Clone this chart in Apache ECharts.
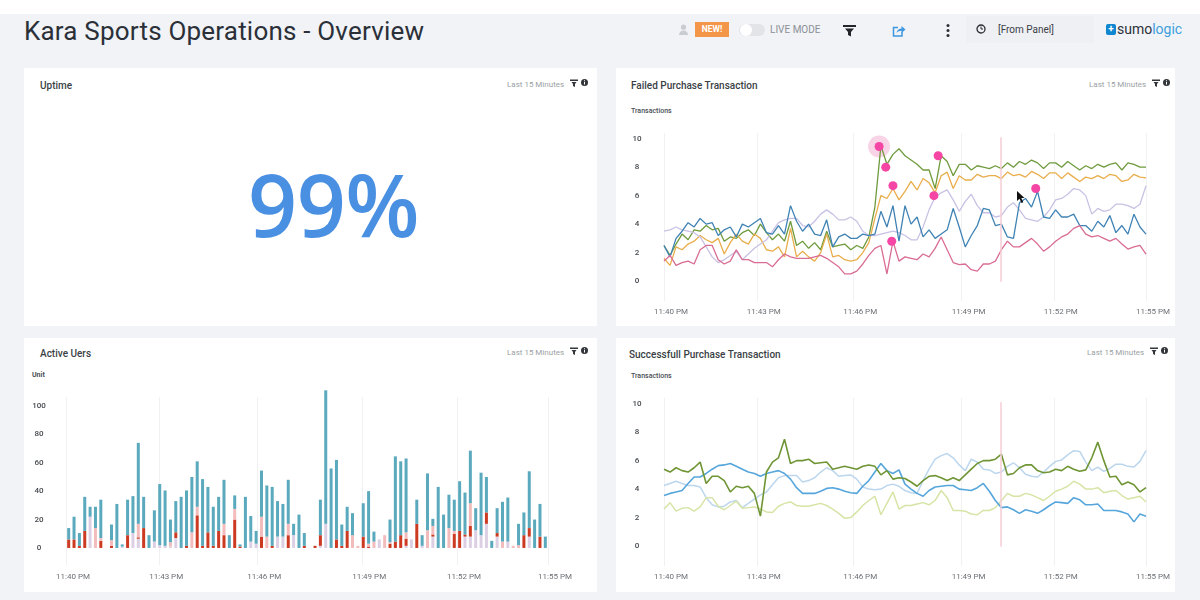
<!DOCTYPE html>
<html>
<head>
<meta charset="utf-8">
<title>Kara Sports Operations - Overview</title>
<script src="https://cdn.jsdelivr.net/npm/echarts@6/dist/echarts.min.js"></script>
<style>
  html, body { margin: 0; width: 1200px; height: 600px; overflow: hidden; background: #fff; font-family: Roboto, sans-serif; }
  #bg { position: absolute; left: 0; top: 14px; width: 1200px; height: 586px; background: #f1f3f7; }
  .panel { position: absolute; background: #fff; }
  .t { position: absolute; white-space: nowrap; line-height: 1; }
  .ptitle { font-size: 10px; font-weight: 500; color: #3a3f45; }
  .last { font-size: 8px; color: #9b9fa4; }
  svg { position: absolute; }
  #chart { position: absolute; left: 0; top: 0; width: 1200px; height: 600px; }
</style>
</head>
<body>
<div id="bg"></div>
<div class="panel" style="left:24px;top:68px;width:573px;height:258px"></div>
<div class="panel" style="left:616px;top:68px;width:559px;height:258px"></div>
<div class="panel" style="left:24px;top:338px;width:573px;height:254px"></div>
<div class="panel" style="left:616px;top:338px;width:559px;height:254px"></div>

<div class="t" style="left:24px;top:18px;font-size:26px;color:#2b3038;letter-spacing:.2px">Kara Sports Operations - Overview</div>

<svg style="left:678px;top:24px" width="11" height="12" viewBox="0 0 11 12"><circle cx="5.5" cy="3.2" r="2.6" fill="#c9ccd0"/><path d="M1 11c0-3 2-4.5 4.5-4.5S10 8 10 11z" fill="#c9ccd0"/></svg>
<div class="t" style="left:695px;top:22px;width:34px;height:15px;line-height:15px;background:#f4964a;color:#fff;font-size:8.5px;font-weight:700;text-align:center">NEW!</div>
<div style="position:absolute;left:739px;top:24px;width:26px;height:12px;border-radius:6px;background:#e2e4e8"></div>
<div style="position:absolute;left:740px;top:24px;width:12px;height:12px;border-radius:6px;background:#fff"></div>
<div class="t" style="left:770px;top:25px;font-size:10px;color:#8c9096">LIVE MODE</div>
<svg style="left:843px;top:24px" width="13" height="13" viewBox="0 0 13 13"><path d="M0 1h13v2H0zM2 4.5h9L8 8v4.5L5 11V8z" fill="#22252a"/></svg>
<svg style="left:892px;top:24px" width="14" height="14" viewBox="0 0 14 14"><path d="M10 8v4H1.500V3.500H6" fill="none" stroke="#3f97e0" stroke-width="1.500"/><path d="M4.500 9c.5-3 2.500-4.500 5-4.500V2l4 3.500-4 3.500V6.800C7.500 6.800 5.800 7.500 4.500 9z" fill="#3f97e0"/></svg>
<svg style="left:945px;top:23px" width="6" height="15" viewBox="0 0 6 15"><circle cx="3" cy="2.500" r="1.500" fill="#2a2d32"/><circle cx="3" cy="7.500" r="1.500" fill="#2a2d32"/><circle cx="3" cy="12.500" r="1.500" fill="#2a2d32"/></svg>
<div style="position:absolute;left:966px;top:16px;width:128px;height:27px;background:#eef0f4"></div>
<svg style="left:976px;top:24px" width="10" height="10" viewBox="0 0 10 10"><circle cx="5" cy="5" r="4" fill="none" stroke="#2a2d32" stroke-width="1.300"/><path d="M5 2.500V5h2" fill="none" stroke="#2a2d32"/></svg>
<div class="t" style="left:998px;top:25px;font-size:10px;color:#3c4047">[From Panel]</div>
<div style="position:absolute;left:1106px;top:24px;width:10px;height:11px;border-radius:2px;background:#0f87d0"></div>
<div class="t" style="left:1107px;top:24px;width:8px;text-align:center;font-size:10px;font-weight:700;color:#fff">+</div>
<div class="t" style="left:1117px;top:22px;font-size:14px;color:#2d3138">sumo<span style="color:#3f9fdc">logic</span></div>

<div class="t ptitle" style="left:40px;top:81px">Uptime</div>
<div class="t ptitle" style="left:631px;top:81px">Failed Purchase Transaction</div>
<div class="t ptitle" style="left:40px;top:349px">Active Uers</div>
<div class="t ptitle" style="left:629px;top:350px">Successfull Purchase Transaction</div>

<div class="t last" style="left:507px;top:81px">Last 15 Minutes</div>
<div class="t last" style="left:1089px;top:81px">Last 15 Minutes</div>
<div class="t last" style="left:507px;top:349px">Last 15 Minutes</div>
<div class="t last" style="left:1087px;top:349px">Last 15 Minutes</div>

<div class="t" style="left:631px;top:108px;font-size:7px;font-weight:500;color:#4a4e54">Transactions</div>
<div class="t" style="left:32px;top:372px;font-size:7px;font-weight:700;color:#4a4e54">Unit</div>
<div class="t" style="left:631px;top:373px;font-size:7px;font-weight:500;color:#4a4e54">Transactions</div>

<div class="t" style="left:248px;top:152px;font-family:'Open Sans',sans-serif;font-weight:600;font-size:86px;letter-spacing:-.5px;color:#4a90e2;line-height:104px">99%</div>

<div id="chart"></div>

<svg style="left:1016px;top:190px;z-index:3" width="10" height="14" viewBox="0 0 10 14"><path d="M1 1v10l2.500-2.300L5.500 13l1.800-.8-2-4.200H8.500z" fill="#111"/></svg>
<svg style="left:570px;top:79px;z-index:3" width="8" height="8" viewBox="0 0 8 8"><path d="M0 .5h8V2H0zM1.500 3h5L5 5v3L3 7V5z" fill="#33363b"/></svg>
<svg style="left:581px;top:79px;z-index:3" width="7" height="7" viewBox="0 0 7 7"><circle cx="3.500" cy="3.500" r="3.500" fill="#33363b"/><path d="M3.500 3v2.500M3.500 1.300v1" stroke="#fff"/></svg>
<svg style="left:1152px;top:79px;z-index:3" width="8" height="8" viewBox="0 0 8 8"><path d="M0 .5h8V2H0zM1.500 3h5L5 5v3L3 7V5z" fill="#33363b"/></svg>
<svg style="left:1163px;top:79px;z-index:3" width="7" height="7" viewBox="0 0 7 7"><circle cx="3.500" cy="3.500" r="3.500" fill="#33363b"/><path d="M3.500 3v2.500M3.500 1.300v1" stroke="#fff"/></svg>
<svg style="left:570px;top:347px;z-index:3" width="8" height="8" viewBox="0 0 8 8"><path d="M0 .5h8V2H0zM1.500 3h5L5 5v3L3 7V5z" fill="#33363b"/></svg>
<svg style="left:581px;top:347px;z-index:3" width="7" height="7" viewBox="0 0 7 7"><circle cx="3.500" cy="3.500" r="3.500" fill="#33363b"/><path d="M3.500 3v2.500M3.500 1.300v1" stroke="#fff"/></svg>
<svg style="left:1150px;top:347px;z-index:3" width="8" height="8" viewBox="0 0 8 8"><path d="M0 .5h8V2H0zM1.500 3h5L5 5v3L3 7V5z" fill="#33363b"/></svg>
<svg style="left:1161px;top:347px;z-index:3" width="7" height="7" viewBox="0 0 7 7"><circle cx="3.500" cy="3.500" r="3.500" fill="#33363b"/><path d="M3.500 3v2.500M3.500 1.300v1" stroke="#fff"/></svg>

<script>
// tick labels and where the gridlines sit on the sample scale
const timeLabels = ['11:40 PM', '11:43 PM', '11:46 PM', '11:49 PM', '11:52 PM', '11:55 PM']
const lineTicks = [0, 15.4, 31.4, 49.4, 64.7, 80]
const barTicks = [-0.5, 16.9, 35.2, 54.8, 72.5, 89.5]
const txTicks = [0, 2, 4, 6, 8, 10]
const unitTicks = [0, 20, 40, 60, 80, 100]

// Failed Purchase Transaction
const failedGreen = [2.5,1.8,2.6,3.3,2.9,3.6,3.5,3.9,3.6,3.7,2.8,3.1,3.0,3.4,3.6,3.2,4.0,3.4,2.9,3.3,2.8,4.2,2.5,2.8,2.3,2.7,2.2,3.5,2.4,2.5,2.6,2.2,2.5,2.3,3.1,5.2,9.5,8.2,8.9,9.3,8.8,8.5,8.2,7.8,7.8,6.5,8.8,8.4,7.4,8.2,8.2,7.8,8.1,8.0,7.9,8.1,7.9,8.3,8.0,8.4,8.2,8.5,8.3,7.9,8.3,8.3,8.0,8.4,8.1,7.8,8.1,7.9,8.2,8.0,8.2,8.3,7.8,8.3,8.2,8.0,8.0]
const failedOrange = [1.6,1.1,2.4,2.2,2.6,2.8,3.2,2.9,2.7,3.0,1.9,2.7,3.3,2.8,2.6,3.3,3.0,2.2,2.1,2.4,1.7,3.7,1.7,2.1,1.7,1.4,2.0,3.3,1.7,1.8,1.5,1.4,1.5,2.0,2.7,4.4,6.0,5.8,6.5,5.7,6.3,7.0,6.4,7.2,6.9,6.2,7.4,7.65,6.5,7.4,7.1,7.1,7.5,7.3,7.4,7.4,7.2,7.65,7.4,7.5,7.3,7.7,7.5,7.2,7.6,7.6,7.2,7.6,7.3,7.0,7.3,7.2,7.4,7.2,7.5,7.4,7.0,7.1,7.5,7.3,7.25]
const failedBlue = [2.5,1.7,3.0,3.5,4.1,3.8,4.4,4.0,4.1,3.2,3.6,3.8,3.1,4.0,3.8,4.1,4.4,3.4,3.3,3.9,3.3,5.3,4.2,3.5,4.0,3.3,3.2,4.3,2.4,3.1,3.3,3.0,3.0,3.3,3.2,3.3,4.9,3.8,5.3,2.8,5.3,4.0,4.5,3.1,3.6,3.0,3.3,3.6,5.1,3.8,2.4,3.2,3.9,5.1,5.0,3.9,4.0,3.1,3.0,5.5,5.8,5.2,6.3,4.5,4.4,5.0,4.5,4.5,4.7,3.9,3.9,3.5,4.2,3.8,4.6,3.4,3.9,3.3,4.7,3.8,3.3]
const failedPurple = [3.5,3.6,3.8,3.6,3.5,3.4,3.1,2.4,1.7,1.3,1.5,1.8,2.1,1.5,1.9,2.3,2.6,2.9,3.5,4.1,4.3,4.4,4.4,3.9,3.8,4.2,4.7,5.0,4.7,4.3,4.3,4.5,4.2,3.5,3.2,3.2,3.3,3.4,3.5,3.4,3.2,2.9,2.9,3.8,5.0,5.9,6.2,6.4,5.7,4.9,5.6,6.1,5.3,4.8,4.8,4.5,4.6,5.2,5.5,5.0,4.4,4.3,4.2,4.5,5.0,5.7,5.8,6.1,6.5,6.4,6.0,4.7,5.1,4.9,5.0,5.4,5.4,5.3,5.1,5.4,6.7]
const failedRose = [1.4,1.8,1.1,1.3,1.4,1.2,2.2,2.5,2.5,1.5,1.2,1.4,2.2,1.5,1.5,1.3,1.3,1.3,1.0,1.5,1.9,1.7,1.6,1.6,1.6,1.7,1.8,1.6,1.3,1.0,0.5,0.5,0.7,1.2,1.8,2.3,2.5,0.5,2.8,1.4,1.7,1.6,1.5,1.9,1.7,2.3,3.1,2.2,1.3,1.15,1.2,0.8,0.7,1.2,1.2,1.4,2.2,2.8,2.4,2.4,2.7,3.0,2.6,2.1,2.4,2.8,3.1,3.3,3.7,3.9,3.3,3.1,3.2,3.0,2.8,3.0,2.6,2.25,2.4,2.5,1.9]
const alertPoints = [[35.7,9.45],[36.8,8.0],[38,6.7],[45.5,8.8],[44.8,6.0],[61.7,6.5],[37.8,2.8]]
const alertHalo = [[35.7,9.45]]
const markerSample = 55.9

// Successfull Purchase Transaction
const okGreen = [5.4,5.2,5.5,5.3,5.2,5.5,5.9,4.4,4.9,4.9,4.6,3.8,4.2,4.1,4.2,3.7,2.1,5.2,5.9,6.2,7.5,5.8,6.0,6.0,6.1,5.8,5.85,5.9,5.4,5.5,5.6,5.5,5.4,5.6,5.7,5.6,5.0,5.3,4.7,4.8,4.75,4.5,4.2,4.6,4.9,4.95,4.8,4.6,4.8,4.6,5.0,5.4,5.8,6.0,6.0,6.1,6.45,5.0,5.1,5.5,5.7,5.7,5.3,5.15,5.2,5.4,5.3,5.6,5.4,5.25,5.35,6.2,7.3,6.0,4.85,4.9,4.3,4.5,4.3,3.8,4.1]
const okBlue = [3.55,3.7,3.8,3.9,4.4,4.85,4.85,5.1,5.4,5.65,5.7,5.8,5.6,5.4,5.2,5.1,4.9,5.1,5.2,5.3,5.1,4.7,4.1,3.7,3.7,3.7,3.85,4.05,4.1,4.0,3.85,3.75,3.7,4.2,4.6,5.2,5.8,5.3,5.1,5.35,4.35,4.0,3.7,3.5,3.9,4.15,4.2,4.25,4.25,4.0,3.95,3.9,4.1,4.4,3.85,3.2,2.7,2.75,2.55,2.3,2.55,2.45,2.3,2.55,2.85,3.1,3.05,3.0,3.4,3.25,2.9,2.9,2.95,2.5,2.5,2.5,2.4,2.25,1.7,2.25,2.1]
const okPaleBlue = [4.25,4.4,4.55,4.4,4.25,4.25,4.15,3.4,2.9,2.75,2.8,3.1,3.2,2.7,3.0,3.3,3.6,3.8,4.3,4.8,4.95,4.95,4.95,4.5,4.6,4.8,5.2,5.5,5.3,4.9,4.95,5.0,4.7,4.15,4.0,3.95,4.0,4.25,4.35,4.2,3.9,3.75,3.7,4.6,5.4,6.1,6.35,6.5,6.2,5.7,5.3,6.1,5.9,5.4,5.35,5.1,5.2,5.6,5.85,5.5,5.05,4.9,4.85,5.2,5.6,5.95,6.05,6.4,6.7,6.65,5.9,5.3,5.55,5.25,5.45,5.75,5.75,5.6,5.55,5.95,6.7]
const okPaleGreen = [2.6,3.05,2.45,2.65,2.7,2.45,2.75,3.4,3.4,2.8,2.55,2.85,3.15,2.65,2.7,2.75,2.6,2.4,2.35,2.8,3.0,3.1,2.85,2.8,2.8,2.9,3.0,2.85,2.6,2.3,1.95,2.0,2.4,2.85,3.2,3.5,2.2,3.0,3.8,2.6,2.85,2.85,2.95,3.05,2.9,3.2,3.9,3.4,2.5,2.5,2.45,2.25,2.2,2.5,2.5,2.7,3.2,3.7,3.5,3.5,3.7,3.6,3.4,3.2,3.5,3.85,4.0,4.2,4.55,4.35,4.0,4.0,4.1,3.75,3.85,3.9,3.55,3.3,3.4,3.5,3.1]

// Active Uers, stacked bottom to top, ten bars a row
const usersPurple = [
    0,0,0,0,22,0,0,0,0,0,
    1,0,10.5,6.5,0,0,4.5,2,1.5,1,
    7,0,0,0,0,0,0,0,0,0,
    0,0,0,0,4.5,3,0,0,0,8,
    8,0,9,0,0,0,0,1.5,17,0,
    0,0,0,0,0,0,0,0,6,0,
    0,0,0,1.5,6,0,1.5,0,8,0,
    0,0,0,0,8,8,12.5,9,17,0,
    8,0,4.5,0,0,0,8,0,0,0]
const usersRed = [
    6,6,1.5,12,0,0,5,0,1.5,0,
    0,9,0,1,14,0,0,0,0,0,
    4,0,1.5,0,23,1.5,11,1.5,12,9,
    0,20,1,0,0,0,8,0,1.5,0,
    0,9,0,0,1.5,0,1.5,7.5,0,0,
    6,1.5,12,0,0,8,1,0,0,0,
    3,4.5,9,5,0,17,0,0,1.5,0,
    0,0,10,12,1.5,7.5,0,0,8,0,
    2.5,0,0,0,0,9,6,0,8,0]
const usersPink = [
    0,0,0,0,0,14,2,0,4,0,
    0,0,0,9.5,0,0,0,0,0,3,
    0,0,0,11,6,0,0,0,0,8,
    0,7.5,0,0,0,0,14,8,0,0,
    0,8,0,0,0,0,0,0,0,0,
    0,0,0,9,1.5,0,2,4.5,0,9,
    1,0,0,4.5,0,0,0,12.5,6,0,
    0,14,2,0,0,16,0,0,0,0,
    0,4.5,0,1.5,2,0,0,0,0,0]
const usersTeal = [
    8,16,9,24,7,15,27,0,11,31,
    1.5,25,26,57,22,9,22,43,39,16,
    22,36,39,39,32,47,32,27.5,24,31,
    9,9.5,1.5,36,18,9,32.5,36,41.5,25,
    23,31,8,23.5,9,0,0,25,94,56,
    56,15,17,15.5,0,23.5,37,7,0,0,
    16,60,52,52,0,17,7.5,40,5,43,
    23.5,23.5,22,35,29.5,37,15.5,44,25,5,
    17.5,28,31,0,15,16,40,20,23,8]
const barCategories = usersTeal.map((v, i) => i)

const n = (arr) => arr.map((v, i) => [i, v])

function timeAxis(gridIndex, ticks, min, max, margin) {
    return {
        type: 'value', gridIndex, min, max, position: 'bottom',
        axisLine: { show: false },
        axisTick: { show: false, customValues: ticks },
        splitLine: { show: true, lineStyle: { color: '#f1f1f3', width: 1 } },
        axisLabel: {
            customValues: ticks,
            showMinLabel: true, showMaxLabel: true, hideOverlap: false,
            fontFamily: 'Roboto', fontSize: 8, color: '#6c7075', margin,
            padding: [0, 0, 0, 14],
            formatter: (v) => timeLabels[ticks.indexOf(v)] || ''
        }
    }
}
function valueAxis(gridIndex, ticks, min, max, labelPad) {
    return {
        type: 'value', gridIndex, min, max,
        axisLine: { show: false }, axisTick: { show: false },
        splitLine: { show: false },
        axisLabel: {
            customValues: ticks, fontFamily: 'Roboto', fontWeight: 500,
            fontSize: 8, color: '#45494e', margin: 27, align: 'center',
            padding: labelPad
        }
    }
}
function line(name, data, color, gridIndex, width, extra) {
    return Object.assign({
        name, type: 'line', data: n(data), xAxisIndex: gridIndex, yAxisIndex: gridIndex,
        showSymbol: false, smooth: false, animation: false,
        lineStyle: { color, width }
    }, extra || {})
}
function stackBar(name, data, color) {
    return {
        name, type: 'bar', stack: 'users', data, xAxisIndex: 3, yAxisIndex: 1,
        barWidth: 3, clip: false, animation: false, itemStyle: { color }
    }
}
const marker = {
    markLine: {
        silent: true, symbol: 'none', animation: false, label: { show: false },
        lineStyle: { color: '#f6cdd6', width: 1.5, type: 'solid' },
        data: [[{ coord: [markerSample, -0.05] }, { coord: [markerSample, 10.1] }]]
    }
}

const myChart = echarts.init(document.getElementById('chart'), null, { renderer: 'canvas' })
myChart.setOption({
    animation: false,
    grid: [
        { left: 664, right: 54, top: 133, bottom: 299 },
        { left: 66, right: 652, top: 397, bottom: 35 },
        { left: 664, right: 54, top: 398, bottom: 34 }
    ],
    xAxis: [
        timeAxis(0, lineTicks, 0, 80, 7),
        timeAxis(1, barTicks, -0.5, 89.5, 8),
        timeAxis(2, lineTicks, 0, 80, 7),
        { type: 'category', gridIndex: 1, data: barCategories, position: 'bottom', show: false }
    ],
    yAxis: [
        valueAxis(0, txTicks, -1.4, 10.4),
        valueAxis(1, unitTicks, -12, 106.3, [0, 0, 10, 0]),
        valueAxis(2, txTicks, -1.4, 10.4)
    ],
    series: [
        line('green', failedGreen, '#6f9b3d', 0, 1.3, marker),
        line('orange', failedOrange, '#e9ad4c', 0, 1.3),
        line('purple', failedPurple, '#c9c1e4', 0, 1.3),
        line('blue', failedBlue, '#3f82b4', 0, 1.3),
        line('rose', failedRose, '#d96c94', 0, 1.3),
        { name: 'halo', type: 'scatter', data: alertHalo, xAxisIndex: 0, yAxisIndex: 0, symbolSize: 22, animation: false, itemStyle: { color: '#f8c9e0' }, z: 1 },
        { name: 'alerts', type: 'scatter', data: alertPoints, xAxisIndex: 0, yAxisIndex: 0, symbolSize: 9, animation: false, itemStyle: { color: '#f545a5', opacity: 1 }, z: 5 },
        stackBar('purple', usersPurple, '#dccfe4'),
        stackBar('red', usersRed, '#cc3a22'),
        stackBar('pink', usersPink, '#f3bcbc'),
        stackBar('teal', usersTeal, '#5aa9bd'),
        line('paleBlue', okPaleBlue, '#bcd6ee', 2, 1.5, Object.assign({}, marker)),
        line('paleGreen', okPaleGreen, '#d6e4a6', 2, 1.5),
        line('blue', okBlue, '#56a6dc', 2, 1.6),
        line('green', okGreen, '#6f9535', 2, 1.6)
    ]
})
</script>
</body>
</html>
